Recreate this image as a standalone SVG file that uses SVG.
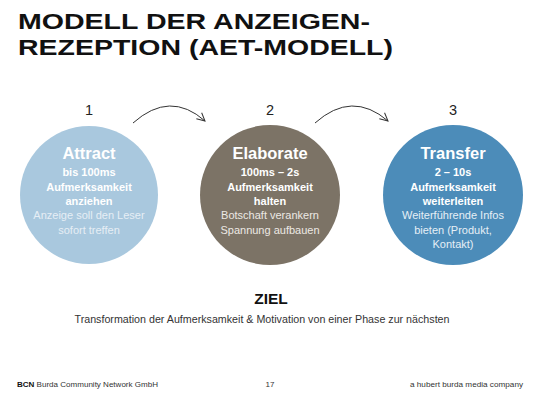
<svg xmlns="http://www.w3.org/2000/svg" width="540" height="401" viewBox="0 0 540 401">
<style>
.title{font-family:"Liberation Sans",Arial,sans-serif;font-weight:bold;font-size:22.5px;fill:#111}
.num{font-family:"Liberation Sans",Arial,sans-serif;font-size:14.5px;fill:#222;text-anchor:middle}
.head{font-family:"Liberation Sans",Arial,sans-serif;font-weight:bold;font-size:16.5px;fill:#fff;text-anchor:middle}
.b{font-family:"Liberation Sans",Arial,sans-serif;font-weight:bold;font-size:11px;fill:#fff;text-anchor:middle}
.r{font-family:"Liberation Sans",Arial,sans-serif;font-size:11px;text-anchor:middle}
.conn{fill:none;stroke:#333;stroke-width:1}
.foot{font-family:"Liberation Sans",Arial,sans-serif;font-size:8px;fill:#333}
</style>
<defs>
<marker id="chev" viewBox="0 0 10 10" refX="9" refY="5" markerWidth="10" markerHeight="10" markerUnits="userSpaceOnUse" orient="auto">
<path d="M1,1 L9,5 L1,9" fill="none" stroke="#333" stroke-width="1"/>
</marker>
</defs>
<rect width="540" height="401" fill="#fff"/>
<text class="title" x="18" y="29" textLength="352" lengthAdjust="spacingAndGlyphs">MODELL DER ANZEIGEN-</text>
<text class="title" x="18" y="55" textLength="375" lengthAdjust="spacingAndGlyphs">REZEPTION (AET-MODELL)</text>

<g id="connectors">
<path class="conn" d="M133,123 Q170,90 205,121" marker-end="url(#chev)"/>
<path class="conn" d="M315,123 Q352,90 388,121" marker-end="url(#chev)"/>
</g>

<g id="attract">
<text class="num" x="89" y="115">1</text>
<circle cx="89" cy="195" r="69" fill="#a9c8de"/>
<text class="head" x="89" y="159">Attract</text>
<text class="b" x="89" y="176">bis 100ms</text>
<text class="b" x="89" y="191">Aufmerksamkeit</text>
<text class="b" x="89" y="205">anziehen</text>
<text class="r" x="89" y="219" fill="#e6eef5">Anzeige soll den Leser</text>
<text class="r" x="89" y="234" fill="#e6eef5">sofort treffen</text>
</g>

<g id="elaborate">
<text class="num" x="270" y="115">2</text>
<circle cx="270" cy="195" r="70" fill="#7c7366"/>
<text class="head" x="270" y="159">Elaborate</text>
<text class="b" x="270" y="176">100ms – 2s</text>
<text class="b" x="270" y="191">Aufmerksamkeit</text>
<text class="b" x="270" y="205">halten</text>
<text class="r" x="270" y="219" fill="#ece9e4">Botschaft verankern</text>
<text class="r" x="270" y="234" fill="#ece9e4">Spannung aufbauen</text>
</g>

<g id="transfer">
<text class="num" x="453" y="115">3</text>
<circle cx="453" cy="195" r="70" fill="#4c8cb9"/>
<text class="head" x="453" y="159">Transfer</text>
<text class="b" x="453" y="176">2 – 10s</text>
<text class="b" x="453" y="191">Aufmerksamkeit</text>
<text class="b" x="453" y="205">weiterleiten</text>
<text class="r" x="453" y="219" fill="#e6eff6">Weiterführende Infos</text>
<text class="r" x="453" y="234" fill="#e6eff6">bieten (Produkt,</text>
<text class="r" x="453" y="248" fill="#e6eff6">Kontakt)</text>
</g>

<g id="ziel">
<text x="271" y="304" text-anchor="middle" style="font-family:'Liberation Sans',Arial,sans-serif;font-weight:bold;font-size:15.5px;fill:#111">ZIEL</text>
<text x="262" y="323" text-anchor="middle" textLength="375" lengthAdjust="spacingAndGlyphs" style="font-family:'Liberation Sans',Arial,sans-serif;font-size:10.5px;fill:#333">Transformation der Aufmerksamkeit &amp; Motivation von einer Phase zur nächsten</text>
</g>

<g id="footer">
<text class="foot" x="17" y="387" textLength="141" lengthAdjust="spacingAndGlyphs"><tspan font-weight="bold" fill="#111">BCN</tspan> Burda Community Network GmbH</text>
<text class="foot" x="270" y="387" text-anchor="middle">17</text>
<text class="foot" x="523" y="387" text-anchor="end" textLength="113" lengthAdjust="spacingAndGlyphs">a hubert burda media company</text>
</g>
</svg>
